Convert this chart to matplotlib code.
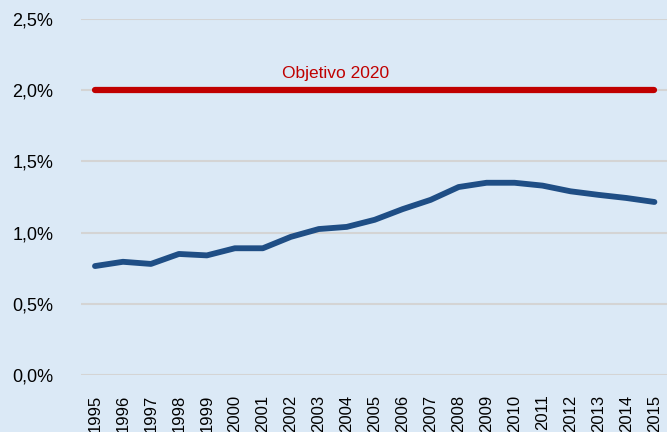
import matplotlib.pyplot as plt
import matplotlib.ticker as mticker

years = [str(y) for y in range(1995, 2016)]
gasto = [0.765, 0.795, 0.78, 0.85, 0.84, 0.89, 0.89, 0.97, 1.025, 1.04,
         1.09, 1.165, 1.23, 1.32, 1.35, 1.35, 1.33, 1.29, 1.265, 1.243, 1.215]
objetivo = 2.0
objetivo_label = "Objetivo 2020"

bg = "#DBE9F6"
blue = "#1F4E85"
red = "#C00000"

plt.rcParams['font.family'] = ['Liberation Sans', 'DejaVu Sans']

fig = plt.figure(figsize=(6.67, 4.32), dpi=100, facecolor=bg)
ax = fig.add_axes([81 / 667, 1 - 375 / 432, 1 - 81 / 667, (375 - 19) / 432])
ax.set_facecolor(bg)

x = list(range(len(years)))
ax.plot(x, [objetivo] * len(years), color=red, lw=4.5, solid_capstyle='round', zorder=3)
ax.plot(x, gasto, color=blue, lw=4.2, solid_capstyle='round', solid_joinstyle='round', zorder=3)
ax.text(8.6, 2.085, objetivo_label, color=red, fontsize=12.5, ha='center', va='baseline')

ax.set_xlim(-0.5, 20.45)
ax.set_ylim(0, 2.5)
ax.set_yticks([0, 0.5, 1.0, 1.5, 2.0, 2.5])
ax.yaxis.set_major_formatter(mticker.FuncFormatter(lambda v, p: f"{v:.1f}%".replace('.', ',')))
ax.set_xticks(x)
ax.set_xticklabels(years, rotation=90)
ax.grid(axis='y', color='#D4D4D4', lw=1.5, zorder=0)
ax.set_axisbelow(True)
ax.tick_params(axis='y', length=0, pad=20, labelsize=13)
ax.tick_params(axis='x', length=0, pad=14, labelsize=12)
for s in ax.spines.values():
    s.set_visible(False)

fig.savefig("out.png", dpi=100, facecolor=bg)
